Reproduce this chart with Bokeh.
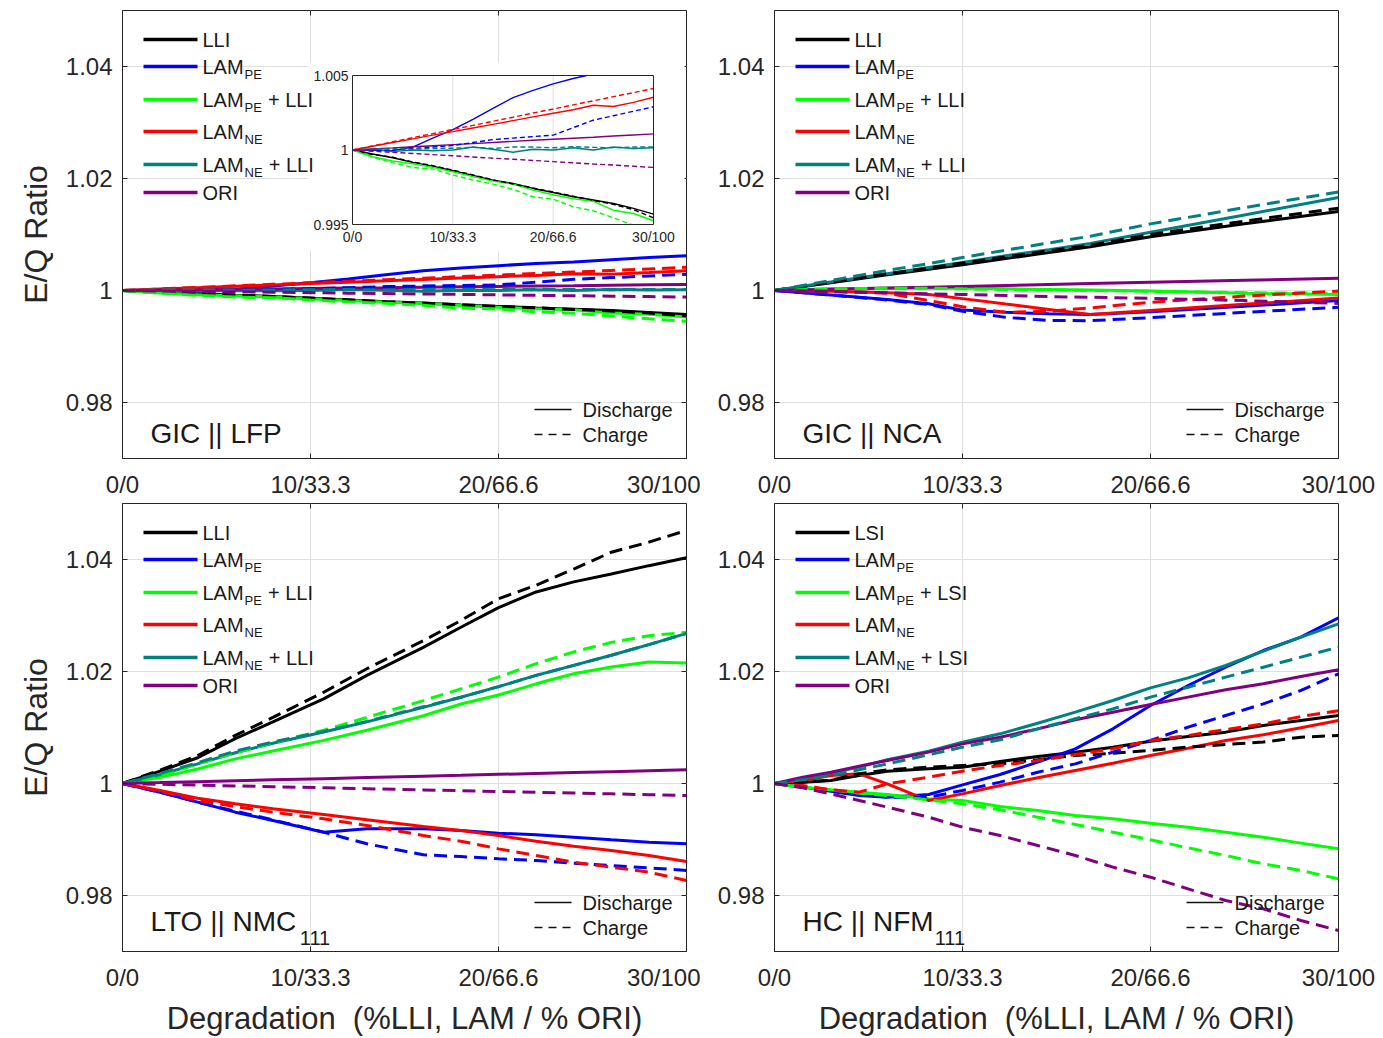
import numpy as np
from bokeh.plotting import figure
from bokeh.layouts import row, column
from bokeh.models import Range1d, FixedTicker
from bokeh.core.properties import value
from bokeh.embed import file_html
from bokeh.resources import INLINE

FONT = "Liberation Sans"
INK = "#262626"
GRID = "#dfdfdf"

# ---------------------------------------------------------------- data
X_LIMITS = (0, 30)
Y_LIMITS = (0.97, 1.05)
X_TICKS = [0, 10, 20, 30]
X_TICK_LABELS = ["0/0", "10/33.3", "20/66.6", "30/100"]
Y_TICKS = [0.98, 1.0, 1.02, 1.04]
Y_TICK_LABELS = ["0.98", "1", "1.02", "1.04"]
INSET_Y_LIMITS = (0.995, 1.005)
INSET_Y_TICKS = [0.995, 1.0, 1.005]
INSET_Y_TICK_LABELS = ["0.995", "1", "1.005"]

SERIES = ["LLI", "LAM_PE", "LAM_PE_LLI", "LAM_NE", "LAM_NE_LLI", "ORI"]
SERIES_COLORS = ["#000000", "#0000ff", "#00ff00", "#ff0000", "#008080", "#800080"]
LEGEND_LLI = [("LLI", "", ""), ("LAM", "PE", ""), ("LAM", "PE", "+ LLI"),
              ("LAM", "NE", ""), ("LAM", "NE", "+ LLI"), ("ORI", "", "")]
LEGEND_LSI = [("LSI", "", ""), ("LAM", "PE", ""), ("LAM", "PE", "+ LSI"),
              ("LAM", "NE", ""), ("LAM", "NE", "+ LSI"), ("ORI", "", "")]

# GIC || LFP
LFP_X = [0, 2, 4, 6, 8, 10, 12, 14, 16, 18, 20, 22, 24, 26, 28, 30]
LFP_DISCHARGE = {
    "LLI":        [1, 0.99973, 0.99948, 0.99917, 0.99892, 0.99861, 0.99830, 0.99798, 0.99776, 0.99742, 0.99715, 0.99686, 0.99664, 0.99641, 0.99608, 0.99570],
    "LAM_PE":     [1, 0.99998, 0.99996, 1.00020, 1.00080, 1.00137, 1.00205, 1.00280, 1.00352, 1.00400, 1.00444, 1.00480, 1.00510, 1.00550, 1.00590, 1.00620],
    "LAM_PE_LLI": [1, 0.99955, 0.99926, 0.99908, 0.99883, 0.99854, 0.99821, 0.99791, 0.99771, 0.99731, 0.99700, 0.99673, 0.99655, 0.99596, 0.99574, 0.99525],
    "LAM_NE":     [1, 1.00025, 1.00050, 1.00075, 1.00100, 1.00123, 1.00148, 1.00172, 1.00197, 1.00222, 1.00247, 1.00270, 1.00300, 1.00292, 1.00320, 1.00354],
    "LAM_NE_LLI": [1, 1.00005, 0.99990, 1.00000, 0.99995, 1.00000, 1.00020, 1.00005, 0.99985, 1.00005, 1.00000, 1.00015, 1.00000, 1.00020, 1.00010, 1.00015],
    "ORI":        [1, 1.00007, 1.00014, 1.00022, 1.00029, 1.00036, 1.00043, 1.00050, 1.00058, 1.00065, 1.00072, 1.00079, 1.00086, 1.00094, 1.00101, 1.00108],
}
LFP_CHARGE = {
    "LLI":        [1, 0.99970, 0.99952, 0.99920, 0.99895, 0.99865, 0.99833, 0.99800, 0.99772, 0.99745, 0.99718, 0.99690, 0.99662, 0.99635, 0.99600, 0.99545],
    "LAM_PE":     [1, 0.99997, 1.00000, 1.00010, 1.00020, 1.00030, 1.00050, 1.00070, 1.00080, 1.00090, 1.00100, 1.00150, 1.00200, 1.00230, 1.00260, 1.00290],
    "LAM_PE_LLI": [1, 0.99951, 0.99915, 0.99883, 0.99872, 0.99832, 0.99798, 0.99771, 0.99735, 0.99686, 0.99670, 0.99619, 0.99592, 0.99545, 0.99495, 0.99450],
    "LAM_NE":     [1, 1.00028, 1.00055, 1.00083, 1.00110, 1.00138, 1.00165, 1.00193, 1.00220, 1.00248, 1.00275, 1.00303, 1.00330, 1.00358, 1.00385, 1.00413],
    "LAM_NE_LLI": [1, 1.00008, 1.00010, 1.00005, 1.00010, 1.00012, 1.00018, 1.00010, 1.00020, 1.00020, 1.00015, 1.00022, 1.00018, 1.00015, 1.00020, 1.00020],
    "ORI":        [1, 0.99992, 0.99984, 0.99977, 0.99969, 0.99961, 0.99953, 0.99945, 0.99938, 0.99930, 0.99922, 0.99914, 0.99906, 0.99899, 0.99891, 0.99883],
}

# GIC || NCA
NCA_X = [0, 3, 6, 8.2, 10, 12.3, 14.6, 16.8, 20, 25, 30]
NCA_DISCHARGE = {
    "LLI":        [1, 1.0014, 1.0028, 1.0038, 1.0046, 1.0057, 1.0068, 1.0078, 1.0096, 1.0119, 1.0141],
    "LAM_PE":     [1, 0.9992, 0.9984, 0.99765, 0.9965, 0.9961, 0.99585, 0.9957, 0.9962, 0.9972, 0.9982],
    "LAM_PE_LLI": [1, 1.0003, 1.0004, 1.0004, 1.0004, 1.0003, 1.0002, 1.0001, 0.9999, 0.9995, 0.9993],
    "LAM_NE":     [1, 0.99985, 0.9996, 0.9993, 0.99855, 0.99758, 0.99662, 0.9957, 0.99642, 0.99753, 0.99865],
    "LAM_NE_LLI": [1, 1.0015, 1.0030, 1.0041, 1.0050, 1.0062, 1.0073, 1.0084, 1.0104, 1.0135, 1.0166],
    "ORI":        [1, 1.00022, 1.00044, 1.0006, 1.00073, 1.0009, 1.00107, 1.00123, 1.00147, 1.00183, 1.0022],
}
NCA_CHARGE = {
    "LLI":        [1, 1.0015, 1.0030, 1.0040, 1.0049, 1.0060, 1.0071, 1.0081, 1.0100, 1.0124, 1.0147],
    "LAM_PE":     [1, 0.9992, 0.9983, 0.9975, 0.9963, 0.9952, 0.99465, 0.9946, 0.99515, 0.9961, 0.9970],
    "LAM_PE_LLI": [1, 1.0003, 1.0004, 1.0004, 1.0003, 1.0002, 1.0001, 1.0000, 0.99985, 0.9996, 0.9995],
    "LAM_NE":     [1, 0.99985, 0.9995, 0.9982, 0.9971, 0.9961, 0.9963, 0.9969, 0.9979, 0.9990, 0.9999],
    "LAM_NE_LLI": [1, 1.0018, 1.0036, 1.0048, 1.0059, 1.0072, 1.0085, 1.0097, 1.0119, 1.0148, 1.0176],
    "ORI":        [1, 0.9998, 0.9996, 0.9994, 0.9993, 0.9991, 0.9989, 0.9988, 0.9986, 0.9982, 0.9977],
}

# LTO || NMC111
LTO_X = [0, 2, 4, 6, 8, 10.7, 13, 16, 18, 20, 22, 24, 26, 28, 30]
LTO_DISCHARGE = {
    "LLI":        [1, 1.0022, 1.0046, 1.0080, 1.0110, 1.0151, 1.0193, 1.0243, 1.0279, 1.0314, 1.0342, 1.0360, 1.0374, 1.0389, 1.0403],
    "LAM_PE":     [1, 0.99845, 0.99667, 0.99488, 0.99339, 0.99131, 0.99190, 0.99190, 0.99161, 0.99113, 0.99083, 0.99042, 0.98994, 0.98952, 0.98923],
    "LAM_PE_LLI": [1, 1.0011, 1.0026, 1.0044, 1.0058, 1.0077, 1.0095, 1.0121, 1.0142, 1.0158, 1.0178, 1.0196, 1.0208, 1.0217, 1.0215],
    "LAM_NE":     [1, 0.99875, 0.99738, 0.99637, 0.99548, 0.99446, 0.99351, 0.99232, 0.99161, 0.99071, 0.98970, 0.98881, 0.98804, 0.98714, 0.98607],
    "LAM_NE_LLI": [1, 1.0016, 1.0035, 1.0055, 1.0072, 1.0092, 1.0110, 1.0136, 1.0154, 1.0173, 1.0193, 1.0211, 1.0229, 1.0248, 1.0268],
    "ORI":        [1, 1.00016, 1.00033, 1.00049, 1.00065, 1.00087, 1.00106, 1.0013, 1.00146, 1.00163, 1.00179, 1.00195, 1.00211, 1.00228, 1.00244],
}
LTO_CHARGE = {
    "LLI":        [1, 1.0024, 1.0050, 1.0086, 1.0118, 1.0163, 1.0205, 1.0255, 1.0291, 1.0330, 1.0354, 1.0383, 1.0413, 1.0431, 1.0452],
    "LAM_PE":     [1, 0.99845, 0.99667, 0.99506, 0.99351, 0.99131, 0.98923, 0.98726, 0.98696, 0.98655, 0.98625, 0.98577, 0.98536, 0.98494, 0.98446],
    "LAM_PE_LLI": [1, 1.0014, 1.0035, 1.0055, 1.0073, 1.0095, 1.0118, 1.0148, 1.0169, 1.0190, 1.0214, 1.0235, 1.0252, 1.0264, 1.0270],
    "LAM_NE":     [1, 0.99863, 0.99696, 0.99589, 0.99488, 0.99369, 0.99250, 0.99071, 0.98970, 0.98833, 0.98714, 0.98595, 0.98506, 0.98417, 0.98268],
    "LAM_NE_LLI": [1, 1.0018, 1.0037, 1.0058, 1.0074, 1.0093, 1.0111, 1.0137, 1.0154, 1.0173, 1.0193, 1.0211, 1.0229, 1.0248, 1.0268],
    "ORI":        [1, 0.99986, 0.99971, 0.99957, 0.99943, 0.99924, 0.99907, 0.99886, 0.99872, 0.99857, 0.99843, 0.99829, 0.99815, 0.99800, 0.99786],
}

# HC || NFM111
HC_X = [0, 1.5, 3, 4.5, 6, 8.2, 10, 12, 14, 16, 18, 20, 22, 24, 26, 28, 30]
HC_DISCHARGE = {
    "LLI":        [1, 1.00024, 1.00054, 1.00143, 1.0022, 1.00262, 1.00292, 1.00393, 1.00482, 1.0056, 1.00649, 1.00756, 1.00839, 1.00917, 1.01036, 1.01125, 1.01214],
    "LAM_PE":     [1, 0.99935, 0.99863, 0.99786, 0.99756, 0.99804, 0.99976, 1.00161, 1.00381, 1.00619, 1.00976, 1.01393, 1.0175, 1.02077, 1.02375, 1.02613, 1.02958],
    "LAM_PE_LLI": [1, 0.99935, 0.99887, 0.99845, 0.99804, 0.99726, 0.99696, 0.99589, 0.99518, 0.99429, 0.99369, 0.99292, 0.9922, 0.99131, 0.99042, 0.98935, 0.98833],
    "LAM_NE":     [1, 1.00054, 1.00143, 1.00173, 0.99994, 0.99696, 0.99815, 0.99964, 1.00101, 1.00232, 1.00363, 1.005, 1.00631, 1.00768, 1.00869, 1.00994, 1.01125],
    "LAM_NE_LLI": [1, 1.00083, 1.00185, 1.00292, 1.00423, 1.00577, 1.00738, 1.00887, 1.01077, 1.01274, 1.01482, 1.01708, 1.01887, 1.02107, 1.02363, 1.02613, 1.02851],
    "ORI":        [1, 1.00113, 1.00202, 1.0031, 1.00411, 1.0056, 1.00708, 1.00827, 1.00976, 1.01137, 1.01274, 1.01411, 1.01542, 1.01673, 1.0178, 1.01911, 1.0203],
}
HC_CHARGE = {
    "LLI":        [1, 1.00024, 1.0006, 1.00173, 1.00244, 1.00292, 1.00321, 1.00351, 1.00423, 1.005, 1.0054, 1.0059, 1.0065, 1.00696, 1.0074, 1.00827, 1.00857],
    "LAM_PE":     [1, 0.99946, 0.99863, 0.99798, 0.99756, 0.99756, 0.99875, 1.00024, 1.00202, 1.00351, 1.0056, 1.00768, 1.01006, 1.01214, 1.01423, 1.01661, 1.01958],
    "LAM_PE_LLI": [1, 0.99946, 0.99887, 0.99827, 0.99786, 0.99708, 0.99637, 0.9953, 0.99399, 0.99268, 0.99131, 0.98994, 0.98851, 0.98714, 0.98565, 0.98446, 0.98298],
    "LAM_NE":     [1, 0.99964, 0.99887, 0.99845, 0.99994, 1.00113, 1.0022, 1.00321, 1.00411, 1.00518, 1.00619, 1.00768, 1.00857, 1.00964, 1.01065, 1.01196, 1.0130],
    "LAM_NE_LLI": [1, 1.00065, 1.00143, 1.00244, 1.00351, 1.00512, 1.00649, 1.0078, 1.00976, 1.01155, 1.01333, 1.01542, 1.0172, 1.01899, 1.02077, 1.02256, 1.02435],
    "ORI":        [1, 0.99923, 0.99815, 0.99696, 0.99577, 0.99399, 0.9922, 0.99071, 0.98893, 0.98714, 0.98506, 0.98327, 0.98119, 0.97911, 0.97762, 0.97554, 0.97375],
}

# ---------------------------------------------------------------- layout
FRAME_W, FRAME_H = 564, 448
LEFT_COL = dict(width=700, left=122, right=14)
RIGHT_COL = dict(width=683, left=74, right=45)
TOP_ROW = dict(height=500, top=10, bottom=42)
BOTTOM_ROW = dict(height=538, top=3, bottom=87)

LEGEND_ROWS_FROM_TOP = [29, 56, 89, 121, 154, 182]
LEGEND_LINE_X = (21, 75)
LEGEND_TEXT_X = 80
MODE_LINE_X = (412, 449)
MODE_TEXT_X = 460
MODE_ROWS_FROM_BOTTOM = [49, 24]
TICK_LEN = 5

INSET_BOX = dict(left=230, right=531, bottom=234, top=383)
INSET_BG = dict(left=186, right=562, bottom=208, top=396)

DASH_MAIN = "13 7"
DASH_INSET = "5 3"

# Arial-like advance widths (em) for placing subscript pieces
ADV = {"L": .556, "A": .667, "M": .833, "P": .667, "E": .667, "N": .722, "S": .667,
       "I": .278, "O": .778, "R": .722, "+": .584, " ": .278, "G": .778, "C": .722,
       "|": .26, "F": .611, "T": .611, "H": .722}


def text_width(s, size):
    return sum(ADV.get(c, .556) for c in s) * size


def px_text(p, x, y, s, size, align="left", baseline="middle", color=INK):
    p.text(x=[x], y=[y], text=[s], x_range_name="px", y_range_name="px",
           text_font=value(FONT), text_font_size=f"{size}px", text_align=align,
           text_baseline=baseline, text_color=color)


def clip_polyline(xs, ys, lo, hi):
    """Cut a polyline to the band lo <= y <= hi, with NaN gaps where it leaves."""
    out_x, out_y = [], []
    last = None
    for i in range(len(xs) - 1):
        x0, y0, x1, y1 = xs[i], ys[i], xs[i + 1], ys[i + 1]
        t0, t1 = 0.0, 1.0
        dy = y1 - y0
        if dy == 0:
            if not (lo <= y0 <= hi):
                continue
        else:
            ta, tb = (lo - y0) / dy, (hi - y0) / dy
            t0, t1 = max(t0, min(ta, tb)), min(t1, max(ta, tb))
            if t0 > t1:
                continue
        a = (x0 + t0 * (x1 - x0), y0 + t0 * dy)
        b = (x0 + t1 * (x1 - x0), y0 + t1 * dy)
        if last is None or abs(last[0] - a[0]) > 1e-9 or abs(last[1] - a[1]) > 1e-12:
            if out_x:
                out_x.append(np.nan)
                out_y.append(np.nan)
            out_x.append(a[0])
            out_y.append(a[1])
        out_x.append(b[0])
        out_y.append(b[1])
        last = b
    return out_x, out_y


def style_axis(ax):
    ax.axis_line_color = INK
    ax.major_tick_line_color = INK
    ax.major_tick_in = TICK_LEN
    ax.major_tick_out = 0
    ax.minor_tick_line_color = None
    ax.major_label_text_font = FONT
    ax.major_label_text_color = INK
    ax.major_label_text_font_size = "24px"


def make_panel(col, rowcfg, xs, discharge, charge, legend_rows, name, name_sub,
               y_title=False, x_title=False, inset=False):
    p = figure(width=col["width"], height=rowcfg["height"],
               x_range=Range1d(*X_LIMITS), y_range=Range1d(*Y_LIMITS),
               min_border_left=col["left"], min_border_right=col["right"],
               min_border_top=rowcfg["top"], min_border_bottom=rowcfg["bottom"],
               output_backend="svg", toolbar_location=None,
               background_fill_color="white", border_fill_color="white")
    p.outline_line_color = INK
    p.extra_x_ranges["px"] = Range1d(0, FRAME_W)
    p.extra_y_ranges["px"] = Range1d(0, FRAME_H)

    xax = p.below[0]
    yax = p.left[0]
    xax.ticker = FixedTicker(ticks=X_TICKS)
    xax.major_label_overrides = dict(zip(X_TICKS, X_TICK_LABELS))
    yax.ticker = FixedTicker(ticks=Y_TICKS)
    yax.major_label_overrides = dict(zip(Y_TICKS, Y_TICK_LABELS))
    style_axis(xax)
    style_axis(yax)
    xax.major_label_standoff = 12
    yax.major_label_standoff = 10
    p.xgrid.ticker = FixedTicker(ticks=X_TICKS[1:3])
    p.ygrid.ticker = FixedTicker(ticks=Y_TICKS)
    p.grid.grid_line_color = GRID
    p.grid.grid_line_width = 1

    # inward ticks on the right and top edges of the box
    ty = [(v - Y_LIMITS[0]) / (Y_LIMITS[1] - Y_LIMITS[0]) * FRAME_H for v in Y_TICKS]
    tx = [(v - X_LIMITS[0]) / (X_LIMITS[1] - X_LIMITS[0]) * FRAME_W for v in X_TICKS[1:3]]
    p.segment(x0=[FRAME_W] * len(ty), x1=[FRAME_W - TICK_LEN] * len(ty), y0=ty, y1=ty,
              line_color=INK, line_width=1, x_range_name="px", y_range_name="px")
    p.segment(x0=tx, x1=tx, y0=[FRAME_H] * len(tx), y1=[FRAME_H - TICK_LEN] * len(tx),
              line_color=INK, line_width=1, x_range_name="px", y_range_name="px")

    if y_title:
        yax.axis_label = "E/Q Ratio"
        yax.axis_label_text_font = FONT
        yax.axis_label_text_font_size = "32px"
        yax.axis_label_text_font_style = "normal"
        yax.axis_label_text_color = INK
        yax.axis_label_standoff = 9
    if x_title:
        xax.axis_label = "Degradation\u00a0 (%LLI, LAM / % ORI)"
        xax.axis_label_text_font = FONT
        xax.axis_label_text_font_size = "31px"
        xax.axis_label_text_font_style = "normal"
        xax.axis_label_text_color = INK
        xax.axis_label_standoff = 7

    # simulated curves: all discharge first, charge dashed on top
    for key, color in zip(SERIES, SERIES_COLORS):
        p.line(xs, discharge[key], line_color=color, line_width=3)
    for key, color in zip(SERIES, SERIES_COLORS):
        p.line(xs, charge[key], line_color=color, line_width=3, line_dash=DASH_MAIN)

    if inset:
        kx = (X_LIMITS[1] - X_LIMITS[0]) / (INSET_BOX["right"] - INSET_BOX["left"])
        ky = (INSET_Y_LIMITS[1] - INSET_Y_LIMITS[0]) / (INSET_BOX["top"] - INSET_BOX["bottom"])
        p.extra_x_ranges["ix"] = Range1d(X_LIMITS[0] - INSET_BOX["left"] * kx,
                                         X_LIMITS[1] + (FRAME_W - INSET_BOX["right"]) * kx)
        p.extra_y_ranges["iy"] = Range1d(INSET_Y_LIMITS[0] - INSET_BOX["bottom"] * ky,
                                         INSET_Y_LIMITS[1] + (FRAME_H - INSET_BOX["top"]) * ky)
        ir = dict(x_range_name="ix", y_range_name="iy")
        p.quad(left=[INSET_BG["left"]], right=[INSET_BG["right"]],
               bottom=[INSET_BG["bottom"]], top=[INSET_BG["top"]],
               fill_color="white", line_color=None, x_range_name="px", y_range_name="px")
        p.segment(x0=X_TICKS[1:3], x1=X_TICKS[1:3],
                  y0=[INSET_Y_LIMITS[0]] * 2, y1=[INSET_Y_LIMITS[1]] * 2,
                  line_color=GRID, line_width=1, **ir)
        p.segment(x0=[X_LIMITS[0]], x1=[X_LIMITS[1]], y0=[1.0], y1=[1.0],
                  line_color=GRID, line_width=1, **ir)
        for key, color in zip(SERIES, SERIES_COLORS):
            cx, cy = clip_polyline(xs, discharge[key], *INSET_Y_LIMITS)
            p.line(cx, cy, line_color=color, line_width=1.4, **ir)
        for key, color in zip(SERIES, SERIES_COLORS):
            cx, cy = clip_polyline(xs, charge[key], *INSET_Y_LIMITS)
            p.line(cx, cy, line_color=color, line_width=1.4, line_dash=DASH_INSET, **ir)
        p.quad(left=[X_LIMITS[0]], right=[X_LIMITS[1]],
               bottom=[INSET_Y_LIMITS[0]], top=[INSET_Y_LIMITS[1]],
               fill_color=None, line_color=INK, line_width=1, **ir)
        p.text(x=[X_LIMITS[0]] * 3, y=INSET_Y_TICKS, text=INSET_Y_TICK_LABELS,
               x_offset=-4, text_align="right", text_baseline="middle",
               text_font=value(FONT), text_font_size="14px", text_color=INK, **ir)
        p.text(x=X_TICKS, y=[INSET_Y_LIMITS[0]] * 4, text=X_TICK_LABELS,
               y_offset=4, text_align="center", text_baseline="top",
               text_font=value(FONT), text_font_size="14px", text_color=INK, **ir)

    # series legend
    for (main, sub, tail), color, yt in zip(legend_rows, SERIES_COLORS, LEGEND_ROWS_FROM_TOP):
        y = FRAME_H - yt
        p.line(list(LEGEND_LINE_X), [y, y], line_color=color, line_width=3.5,
               x_range_name="px", y_range_name="px")
        px_text(p, LEGEND_TEXT_X, y, main, 20, color="#1a1a1a")
        if sub:
            xs_ = LEGEND_TEXT_X + text_width(main, 20) + 1
            px_text(p, xs_, y - 8, sub, 13, color="#1a1a1a")
            if tail:
                px_text(p, xs_ + text_width(sub, 13) + 6, y, tail, 20, color="#1a1a1a")

    # discharge / charge key
    for label, dash, y in zip(["Discharge", "Charge"], ["solid", "8 6"], MODE_ROWS_FROM_BOTTOM):
        p.line(list(MODE_LINE_X), [y, y], line_color="#111111", line_width=1.6,
               line_dash=dash, x_range_name="px", y_range_name="px")
        px_text(p, MODE_TEXT_X, y, label, 20, color="#1a1a1a")

    # cell name
    if name_sub:
        px_text(p, 28, 30, name, 28, color="#1a1a1a")
        px_text(p, 28 + text_width(name, 28) + 1, 14, name_sub, 20, color="#1a1a1a")
    else:
        px_text(p, 28, 25, name, 28, color="#1a1a1a")
    return p


p1 = make_panel(LEFT_COL, TOP_ROW, LFP_X, LFP_DISCHARGE, LFP_CHARGE, LEGEND_LLI,
                "GIC || LFP", "", y_title=True, inset=True)
p2 = make_panel(RIGHT_COL, TOP_ROW, NCA_X, NCA_DISCHARGE, NCA_CHARGE, LEGEND_LLI,
                "GIC || NCA", "")
p3 = make_panel(LEFT_COL, BOTTOM_ROW, LTO_X, LTO_DISCHARGE, LTO_CHARGE, LEGEND_LLI,
                "LTO || NMC", "111", y_title=True, x_title=True)
p4 = make_panel(RIGHT_COL, BOTTOM_ROW, HC_X, HC_DISCHARGE, HC_CHARGE, LEGEND_LSI,
                "HC || NFM", "111", x_title=True)

layout = column(row(p1, p2), row(p3, p4))
open("out.html", "w").write(file_html(layout, INLINE))
